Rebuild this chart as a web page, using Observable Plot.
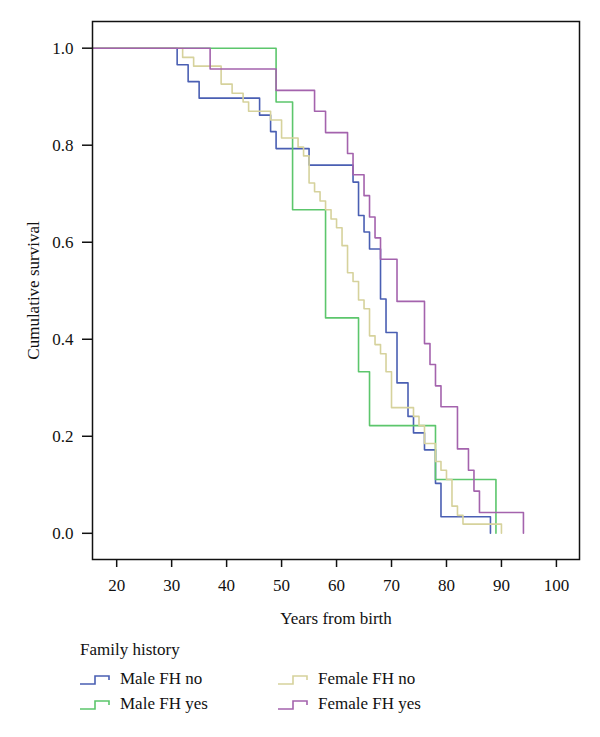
<!DOCTYPE html>
<html>
<head>
<meta charset="utf-8">
<script src="https://cdn.jsdelivr.net/npm/d3@7"></script>
<script src="https://cdn.jsdelivr.net/npm/@observablehq/plot@0.6"></script>
<style>
  body { margin: 0; background: #fff; }
  #chart svg { display: block; }
  #legend { display: block; }
</style>
</head>
<body>
<div id="chart"></div>
<svg id="legend" width="600" height="107" font-family="'Liberation Serif', 'Times New Roman', serif" font-size="17" fill="#111"></svg>
<script>
// ---- Data (Kaplan–Meier step curves) ----
const groupNames = ["Male FH no", "Male FH yes", "Female FH no", "Female FH yes"];
const groupColors = ["#4a5fb3", "#5cc66c", "#d6d29c", "#a463ad"];

const maleNoTimes = [0, 31, 33, 35, 46, 48, 49, 55, 63, 64, 65, 66, 68, 69, 71, 73, 74, 76, 78, 79, 88];
const maleNoSurv  = [1, 0.966, 0.931, 0.897, 0.862, 0.828, 0.793, 0.759, 0.724, 0.655, 0.621, 0.586, 0.483, 0.414, 0.310, 0.241, 0.207, 0.172, 0.103, 0.034, 0];

const maleYesTimes = [0, 49, 52, 58, 64, 66, 78, 89];
const maleYesSurv  = [1, 0.889, 0.667, 0.444, 0.333, 0.222, 0.111, 0];

const femaleNoTimes = [0, 32, 34, 39, 41, 43, 44, 48, 50, 53, 54, 55, 56, 57, 58, 59, 60, 61, 62, 63, 64, 65, 66, 67, 68, 69, 70, 74, 75, 76, 78, 79, 80, 81, 82, 83, 90];
const femaleNoSurv  = [1, 0.981, 0.963, 0.926, 0.907, 0.889, 0.870, 0.852, 0.815, 0.796, 0.778, 0.722, 0.704, 0.685, 0.667, 0.648, 0.630, 0.593, 0.537, 0.519, 0.481, 0.463, 0.407, 0.389, 0.370, 0.333, 0.259, 0.241, 0.222, 0.185, 0.148, 0.130, 0.111, 0.056, 0.037, 0.019, 0];

const femaleYesTimes = [0, 37, 49, 56, 58, 62, 63, 65, 66, 67, 68, 71, 76, 77, 78, 79, 82, 84, 85, 86, 94];
const femaleYesSurv  = [1, 0.957, 0.913, 0.870, 0.826, 0.783, 0.739, 0.696, 0.652, 0.609, 0.565, 0.478, 0.391, 0.348, 0.304, 0.261, 0.174, 0.130, 0.087, 0.043, 0];

const xTicks = [20, 30, 40, 50, 60, 70, 80, 90, 100];
const yTicks = [0, 0.2, 0.4, 0.6, 0.8, 1.0];

// ---- Build table ----
const seriesList = [
  {name: groupNames[0], times: maleNoTimes, surv: maleNoSurv},
  {name: groupNames[1], times: maleYesTimes, surv: maleYesSurv},
  {name: groupNames[2], times: femaleNoTimes, surv: femaleNoSurv},
  {name: groupNames[3], times: femaleYesTimes, surv: femaleYesSurv}
];
const rows = seriesList.flatMap(s => s.times.map((t, i) => ({group: s.name, t, s: s.surv[i]})));

const font = "'Liberation Serif', 'Times New Roman', serif";

const chart = Plot.plot({
  width: 600,
  height: 630,
  marginLeft: 92,
  marginRight: 21,
  marginTop: 21,
  marginBottom: 71,
  style: {fontFamily: font, fontSize: "17px", color: "#111", background: "#fff"},
  x: {domain: [15.6, 104.2]},
  y: {domain: [-0.054, 1.055]},
  color: {domain: groupNames, range: groupColors},
  marks: [
    Plot.line(rows, {x: "t", y: "s", z: "group", stroke: "group", curve: "step-after", strokeWidth: 1.6, clip: true}),
    Plot.frame({stroke: "#111", strokeWidth: 1.5}),
    Plot.axisY({ticks: yTicks, tickSize: 10, tickPadding: 9, strokeWidth: 1.5, tickFormat: d => d.toFixed(1),
      label: "Cumulative survival", labelAnchor: "center", labelOffset: 66, labelArrow: "none"}),
    Plot.axisX({ticks: xTicks, tickSize: 8, tickPadding: 11, strokeWidth: 1.5, tickFormat: d => String(d),
      label: "Years from birth", labelAnchor: "center", labelOffset: 64, labelArrow: "none"})
  ]
});
document.getElementById("chart").appendChild(chart);

// ---- Legend (below the plot) ----
const legend = d3.select("#legend");
legend.append("text").attr("x", 80).attr("y", 25).text("Family history");
const legendPos = [
  {x: 80, y: 54}, {x: 80, y: 79}, {x: 278, y: 54}, {x: 278, y: 79}
];
groupNames.forEach((name, i) => {
  const p = legendPos[i];
  legend.append("path")
    .attr("d", `M${p.x},${p.y}H${p.x + 15}V${p.y - 8}H${p.x + 29}V${p.y - 4}`)
    .attr("fill", "none").attr("stroke", groupColors[i]).attr("stroke-width", 1.6);
  legend.append("text").attr("x", p.x + 40).attr("y", p.y).text(name);
});
</script>
</body>
</html>
